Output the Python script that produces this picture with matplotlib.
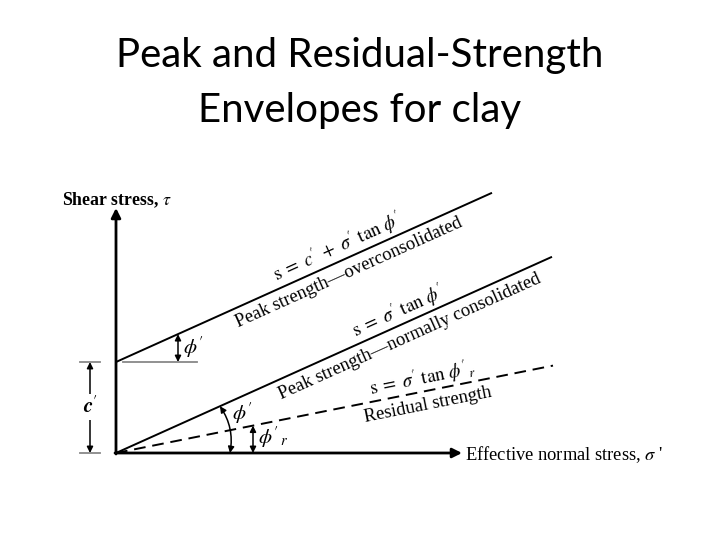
import numpy as np
import matplotlib
matplotlib.use("Agg")
import matplotlib.pyplot as plt

plt.rcParams['font.family'] = ['Liberation Serif', 'DejaVu Serif']
plt.rcParams['mathtext.fontset'] = 'stix'

# envelope parameters (diagram units, origin at sigma'=0, tau=0)
c_prime = 9.1          # cohesion intercept of overconsolidated envelope
tan_phi = 0.45         # peak friction slope
tan_phi_r = 0.2        # residual friction slope
sigma_end = [37.6, 43.6, 43.7]   # where each envelope stops: OC, NC, residual
axis_len = [34.6, 24.5]          # length of sigma' axis and tau axis

envelopes = [
    (c_prime, tan_phi, sigma_end[0], '-'),
    (0.0, tan_phi, sigma_end[1], '-'),
    (0.0, tan_phi_r, sigma_end[2], (0, (6, 3.5))),
]
labels_above = [r"$\mathrm{s}\;=\;c'\;+\;\sigma'\ \mathrm{tan}\ \phi'$",
                r"$\mathrm{s}\;=\;\sigma'\ \mathrm{tan}\ \phi'$",
                r"$\mathrm{s}\;=\;\sigma'\ \mathrm{tan}\ \phi'_{\,r}$"]
labels_below = ["Peak strength\u2014overconsolidated",
                "Peak strength\u2014normally consolidated",
                "Residual strength"]
label_at = [22.7, 28.8, 30.9]    # sigma' where the labels are centred

fig = plt.figure(figsize=(7.2, 5.4), dpi=100)
ax = fig.add_axes([0, 0, 1, 1])
ax.set_xlim(-11.6, 60.4)
ax.set_ylim(-8.7, 45.3)
ax.set_aspect('equal')
ax.axis('off')

# title
fig.text(0.5, 0.898, "Peak and Residual-Strength", ha='center', va='center',
         fontsize=29, family='Lato')
fig.text(0.5, 0.796, "Envelopes for clay", ha='center', va='center',
         fontsize=29, family='Lato')

# axes arrows
ax.annotate("", xy=(axis_len[0], 0), xytext=(-0.1, 0),
            arrowprops=dict(arrowstyle='-|>', lw=2.0, color='black',
                            mutation_scale=14, shrinkA=0, shrinkB=0))
ax.annotate("", xy=(0, axis_len[1]), xytext=(0, -0.1),
            arrowprops=dict(arrowstyle='-|>', lw=2.0, color='black',
                            mutation_scale=14, shrinkA=0, shrinkB=0))
ax.text(-5.4, 25.3, r"Shear stress, $\tau$", fontsize=12.8, fontweight='bold',
        ha='left', va='center')
ax.text(34.9, -0.2, r"Effective normal stress, $\sigma$ '", fontsize=13.3,
        ha='left', va='center')

# envelopes and their labels
for (c, t, s_end, ls), above, below, s_lab in zip(envelopes, labels_above,
                                                    labels_below, label_at):
    s = np.array([0, s_end])
    ax.plot(s, c + t * s, color='black', lw=1.4, ls=ls, solid_capstyle='butt')
    ang = np.arctan(t)
    nx, ny = -np.sin(ang), np.cos(ang)
    x0, y0 = s_lab, c + t * s_lab
    ax.text(x0 + 1.35 * nx, y0 + 1.35 * ny, above, rotation=np.degrees(ang),
            rotation_mode='anchor', ha='center', va='center', fontsize=13.5)
    ax.text(x0 - 1.4 * nx, y0 - 1.4 * ny, below, rotation=np.degrees(ang),
            rotation_mode='anchor', ha='center', va='center', fontsize=13.4)

# gray reference lines for c'
gray = '#888888'
ax.plot([-3.6, -1.6], [c_prime, c_prime], color=gray, lw=1.3)
ax.plot([0.7, 8.1], [c_prime, c_prime], color=gray, lw=1.3)
ax.plot([-3.6, -1.6], [0, 0], color=gray, lw=1.3)

dbl = dict(arrowstyle='<|-|>', lw=1.1, color='black', mutation_scale=9,
           shrinkA=0, shrinkB=0)

# c' dimension
ax.annotate("", xy=(-2.6, c_prime), xytext=(-2.6, 0), arrowprops=dbl)
ax.text(-2.6, 4.6, r"$\boldsymbol{c}'$", fontsize=15, ha='center',
        va='center', bbox=dict(fc='white', ec='none', pad=1.5))

# phi' on the overconsolidated envelope
xp = 6.2
ax.annotate("", xy=(xp, c_prime + tan_phi * xp), xytext=(xp, c_prime),
            arrowprops=dbl)
ax.text(xp + 0.5, c_prime + 1.5, r"$\phi'$", fontsize=15, ha='left',
        va='center')

# phi' on the normally consolidated envelope (arc)
r = 11.4
ang = np.arctan(tan_phi)
ax.annotate("", xy=(r * np.cos(ang), r * np.sin(ang)), xytext=(r, 0),
            arrowprops=dict(dbl, connectionstyle='arc3,rad=0.2'))
ax.text(r + 0.2, 4.0, r"$\phi'$", fontsize=15, ha='left', va='center')

# phi'_r on the residual envelope
xr = 13.7
ax.annotate("", xy=(xr, tan_phi_r * xr), xytext=(xr, 0), arrowprops=dbl)
ax.text(xr + 0.5, 1.6, r"$\phi'_{\,r}$", fontsize=15, ha='left',
        va='center')

fig.savefig("out.png", dpi=100)
